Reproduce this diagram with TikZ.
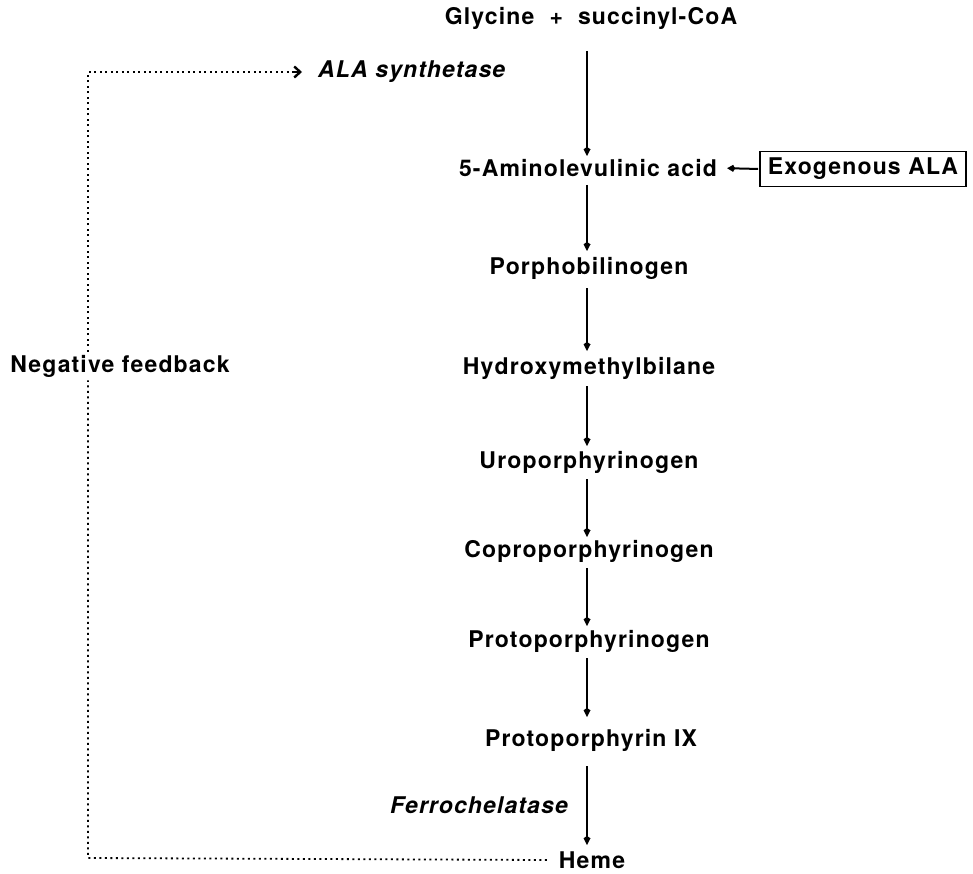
\documentclass[tikz,border=0pt]{standalone}
\usepackage{fontspec}
\setmainfont{TeX Gyre Heros}[LetterSpace=5]
\usetikzlibrary{arrows.meta}
\tikzset{
  lbl/.style={font=\bfseries\fontsize{23}{26}\selectfont, inner sep=2pt},
  itl/.style={font=\bfseries\itshape\fontsize{23}{26}\selectfont, inner sep=2pt},
  stepto/.style={line width=1.8pt, -{Kite[length=9pt,width=7pt]}, shorten <=1pt, shorten >=1pt},
  fb/.style={line width=1.8pt, dash pattern=on 2pt off 3.5pt}
}
\begin{document}
\begin{tikzpicture}[x=1pt,y=-1pt]
\useasboundingbox (0,0) rectangle (973,874);
\node[lbl] (gly) at (591,18) {Glycine\ \ +\ \ succinyl-CoA};
\node[lbl] (ala) at (588,168) {5-Aminolevulinic acid};
\node[lbl, draw, line width=1.6pt, minimum width=206pt, minimum height=35pt, inner sep=0pt] (exo) at (863,169) {Exogenous ALA};
\node[lbl] (pbg) at (589,268) {Porphobilinogen};
\node[lbl] (hmb) at (589,368) {Hydroxymethylbilane};
\node[lbl] (uro) at (589,462) {Uroporphyrinogen};
\node[lbl] (copro) at (589,551) {Coproporphyrinogen};
\node[lbl] (protogen) at (589,641) {Protoporphyrinogen};
\node[lbl] (proto) at (591,740) {Protoporphyrin IX};
\node[lbl] (heme) at (592,860) {Heme};
\node[itl, anchor=east] (ferro) at (570,805) {Ferrochelatase};
\node[itl, anchor=west] (alas) at (316,72) {ALA synthetase};
\node[lbl, fill=white, inner sep=3pt] (neg) at (120,366) {Negative feedback};

\draw[stepto] (587,50) -- (587,157);
\draw[stepto] (587,184) -- (587,252);
\draw[stepto] (587,287) -- (587,352);
\draw[stepto] (587,385) -- (587,447);
\draw[stepto] (587,478) -- (587,538);
\draw[stepto] (587,567) -- (587,627);
\draw[stepto] (587,657) -- (587,718);
\draw[stepto] (587,765) -- (587,846);
\draw[line width=2pt, -{Kite[length=8pt,width=7pt]}, shorten <=1pt, shorten >=8pt] (exo.west) -- (ala.east);

\coordinate (fbl) at (88,858);
\coordinate (fbt) at (88,72);
\draw[fb] ([xshift=-10pt]heme.west) -- (fbl) -- (neg.south -| fbl);
\draw[fb] (neg.north -| fbl) -- (fbt)
  -- ([xshift=-22pt]alas.west);
\draw[line width=2.4pt, -{Straight Barb[length=6pt,width=11pt,line width=2.4pt]}] ([xshift=-22pt]alas.west) -- ([xshift=-14pt]alas.west);
\end{tikzpicture}
\end{document}
